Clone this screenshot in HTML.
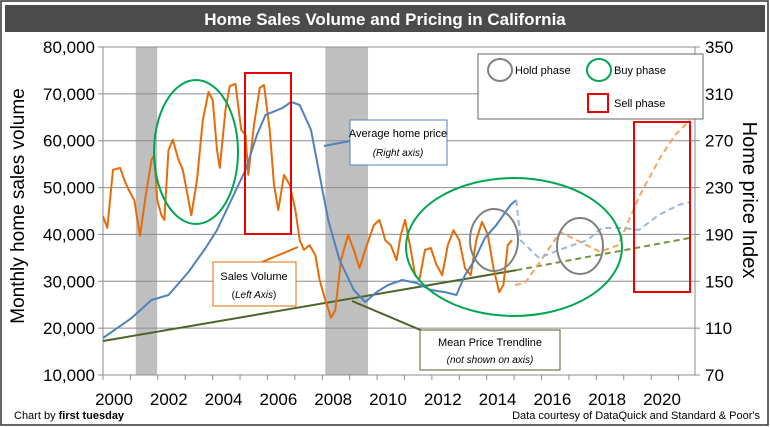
<!DOCTYPE html>
<html><head><meta charset="utf-8"><style>
body{margin:0;background:#fff;}
svg{display:block;font-family:"Liberation Sans",sans-serif;}
</style></head><body>
<svg id="c" width="770" height="427" viewBox="0 0 770 427">
<rect x="1" y="1" width="767" height="424" fill="#fff" stroke="#333" stroke-width="1.5"/>
<rect x="5" y="5" width="760" height="27" fill="#4b4b4b"/>
<text x="385" y="25" text-anchor="middle" fill="#fff" font-size="17" font-weight="bold">Home Sales Volume and Pricing in California</text>
<g id="plot"></g>
<text transform="translate(24,206) rotate(-90)" text-anchor="middle" font-size="19">Monthly home sales volume</text>
<text transform="translate(743,200) rotate(90)" text-anchor="middle" font-size="20">Home price Index</text>
<text x="14" y="419" font-size="11">Chart by <tspan font-weight="bold">first tuesday</tspan></text>
<text x="760" y="419" font-size="11" text-anchor="end">Data courtesy of DataQuick and Standard &amp; Poor's</text>
</svg>
<script>
const leftTicks=[10000,20000,30000,40000,50000,60000,70000,80000];
const rightTicks=[70,110,150,190,230,270,310,350];
const yearLabels=[2000,2002,2004,2006,2008,2010,2012,2014,2016,2018,2020];
const recessions=[[2001.15,2001.9],[2007.8,2009.3]];
const salesYears=[2000.0,2000.15,2000.35,2000.6,2000.75,2000.9,2001.1,2001.3,2001.5,2001.7,2001.8,2001.9,2002.05,2002.15,2002.3,2002.45,2002.65,2002.8,2003.0,2003.1,2003.3,2003.5,2003.7,2003.85,2004.0,2004.1,2004.3,2004.45,2004.65,2004.85,2005.0,2005.1,2005.3,2005.5,2005.65,2005.85,2006.0,2006.15,2006.35,2006.55,2006.75,2006.9,2007.05,2007.25,2007.45,2007.6,2007.8,2008.0,2008.15,2008.35,2008.6,2008.8,2009.0,2009.2,2009.5,2009.7,2009.9,2010.1,2010.3,2010.45,2010.6,2010.8,2010.95,2011.1,2011.3,2011.5,2011.7,2011.9,2012.1,2012.3,2012.5,2012.7,2012.9,2013.1,2013.3,2013.5,2013.7,2013.9,2014.05,2014.2,2014.35];
const salesValues=[43.9,41.4,53.8,54.2,51.6,49.5,47.3,39.7,48.4,55.9,57.0,47.3,44.1,43.1,58.0,60.2,55.9,53.8,47.3,44.1,51.6,64.4,70.4,68.7,58.0,54.2,66.6,71.7,72.1,62.3,61.2,52.7,63.4,71.3,71.9,62.3,50.6,45.2,52.7,50.6,45.2,38.8,36.7,37.7,35.6,30.3,26.0,22.2,23.9,34.5,39.9,36.7,32.8,36.7,42.0,43.1,38.8,37.7,34.5,39.9,43.1,36.7,31.3,30.3,36.7,37.1,33.5,31.3,37.7,40.9,38.8,32.8,31.3,38.8,42.7,39.9,32.8,27.7,29.2,37.7,38.8];
const salesFcYears=[2014.46,2014.8,2015.33,2016.04,2016.74,2017.44,2018.07,2018.84,2019.54,2020.07,2020.6];
const salesFcValues=[29.2,29.6,34.1,40.5,38.4,36.3,37.7,48.4,56.3,61.2,64.4];
const priceYears=[2000,2001,2001.7,2002.3,2003,2003.6,2004,2004.5,2005,2005.4,2005.7,2006.3,2006.6,2006.9,2007.3,2007.6,2007.9,2008.3,2008.8,2009.2,2009.6,2010.0,2010.5,2011.0,2011.5,2012.0,2012.4,2012.7,2013.0,2013.4,2013.8,2014.3,2014.5];
const priceValues=[101.6,118.6,134.0,138.3,157.9,178.4,193.8,219.4,245.0,274.9,292.0,297.9,303.1,300.5,279.2,240.7,202.3,168.2,142.6,132.3,140.8,146.8,151.1,148.5,142.6,140.8,138.3,155.4,166.5,187.0,198.0,215.1,219.4];
const priceFcYears=[2014.5,2014.65,2015.3,2016.0,2017.0,2017.5,2018.2,2018.8,2019.5,2020.2,2020.6];
const priceFcValues=[219.4,185.2,169.9,176.7,185.2,195.5,195.5,193.8,206.6,215.1,217.7];
const trendYears=[2000,2014.5,2020.6];
const trendValues=[99,159.5,187];

const X0=103,X1=695,YT=47,YB=375;
const xs=y=>103+(y-2000)*28.5;
const yl=v=>YB-(v-10000)/70000*(YB-YT);
const yr=v=>YB-(v-70)/280*(YB-YT);
const NS='http://www.w3.org/2000/svg';
const g=document.getElementById('plot');
function mk(t,a,p){const e=document.createElementNS(NS,t);for(const k in a)e.setAttribute(k,a[k]);(p||g).appendChild(e);return e;}

recessions.forEach(r=>{const e=mk('rect',{x:xs(r[0]),y:YT,width:xs(r[1])-xs(r[0]),height:YB-YT,fill:'#bfbfbf'});

});
leftTicks.forEach((t,i)=>{const y=yl(t);
const l=mk('line',{x1:X0-5,x2:X1,y1:y,y2:y,stroke:'#8c8c8c','stroke-width':1});


const tx=mk('text',{x:X0-8,y:y+6,'text-anchor':'end','font-size':17});tx.textContent=t.toLocaleString('en-US');


const rt=mk('text',{x:X1+10,y:y+6,'font-size':17});rt.textContent=rightTicks[i];


mk('line',{x1:X1,x2:X1+5,y1:y,y2:y,stroke:'#8c8c8c'});});
mk('line',{x1:X0,x2:X0,y1:YT,y2:YB,stroke:'#8c8c8c'});
mk('line',{x1:X1,x2:X1,y1:YT,y2:YB,stroke:'#8c8c8c'});
for(let i=0;i<=21;i++){const x=X0+i*(X1-X0)/21.6;mk('line',{x1:x,x2:x,y1:YB,y2:YB+5,stroke:'#8c8c8c'});}
yearLabels.forEach(yv=>{const t=mk('text',{x:114+(yv-2000)*27.4,y:405,'text-anchor':'middle','font-size':17});t.textContent=yv;

});

function path(xsA,vs,sc,st,dash,name){const d=xsA.map((x,i)=>(i?'L':'M')+xs(x).toFixed(1)+','+sc(vs[i]).toFixed(1)).join('');
const p=mk('path',{d:d,fill:'none',stroke:st,'stroke-width':2,'stroke-dasharray':dash||'none','stroke-linejoin':'round'});

}
path(trendYears.slice(0,2),trendValues.slice(0,2),yr,'#4f6228',null,'trendline');
path(trendYears.slice(1),trendValues.slice(1),yr,'#77933c','6,4','trendline-forecast');
path(salesYears,salesValues.map(v=>v*1000),yl,'#e46c0a',null,'sales-volume-line');
path(salesFcYears,salesFcValues.map(v=>v*1000),yl,'#f5a460','6,4','sales-volume-forecast');
path(priceYears,priceValues,yr,'#4f81bd',null,'home-price-line');
path(priceFcYears,priceFcValues,yr,'#9bb7dc','6,4','home-price-forecast');
</script>
<script>
const s=document.getElementById('c');
s.insertAdjacentHTML('beforeend',`
<ellipse cx="196" cy="152" rx="42" ry="72" fill="none" stroke="#00a651" stroke-width="2"/>
<ellipse cx="514" cy="247" rx="108" ry="69" fill="none" stroke="#00a651" stroke-width="2"/>
<ellipse cx="494" cy="240" rx="24" ry="31" fill="none" stroke="#808080" stroke-width="2"/>
<ellipse cx="580" cy="246" rx="23" ry="28" fill="none" stroke="#808080" stroke-width="2"/>
<rect x="245" y="73" width="46" height="161" fill="none" stroke="#e00" stroke-width="2"/>
<rect x="634" y="122" width="56" height="170" fill="none" stroke="#e00" stroke-width="2"/>
<g>
<rect x="478" y="54" width="225" height="65" fill="#fff" stroke="#666"/>
<ellipse cx="500" cy="70" rx="12" ry="11" fill="none" stroke="#808080" stroke-width="2"/>
<text x="515" y="74" font-size="11">Hold phase</text>
<ellipse cx="599" cy="70" rx="12" ry="11" fill="none" stroke="#00a651" stroke-width="2"/>
<text x="614" y="74" font-size="11">Buy phase</text>
<rect x="588" y="94" width="20" height="18" fill="none" stroke="#e00" stroke-width="2"/>
<text x="614" y="107" font-size="11">Sell phase</text>
</g>
<g>
<line x1="350" y1="141" x2="324" y2="146" stroke="#4f81bd" stroke-width="2"/>
<rect x="350" y="120" width="97" height="45" fill="#fff" stroke="#4f81bd"/>
<text x="398" y="137" text-anchor="middle" font-size="11">Average home price</text>
<text x="398" y="156" text-anchor="middle" font-size="10" font-style="italic">(Right axis)</text>
</g>
<g>
<line x1="262" y1="262" x2="298" y2="247" stroke="#e46c0a" stroke-width="2"/>
<rect x="213" y="262" width="83" height="44" fill="#fff" stroke="#e46c0a"/>
<text x="254" y="280" text-anchor="middle" font-size="11">Sales Volume</text>
<text x="254" y="298" text-anchor="middle" font-size="10">(<tspan font-style="italic">Left Axis</tspan>)</text>
</g>
<g>
<line x1="430" y1="334" x2="352" y2="301" stroke="#4f6228" stroke-width="2"/>
<rect x="420" y="330" width="140" height="40" fill="#fff" stroke="#4f6228"/>
<text x="490" y="346" text-anchor="middle" font-size="11">Mean Price Trendline</text>
<text x="490" y="363" text-anchor="middle" font-size="10" font-style="italic">(not shown on axis)</text>
</g>`);
</script>
</body></html>
